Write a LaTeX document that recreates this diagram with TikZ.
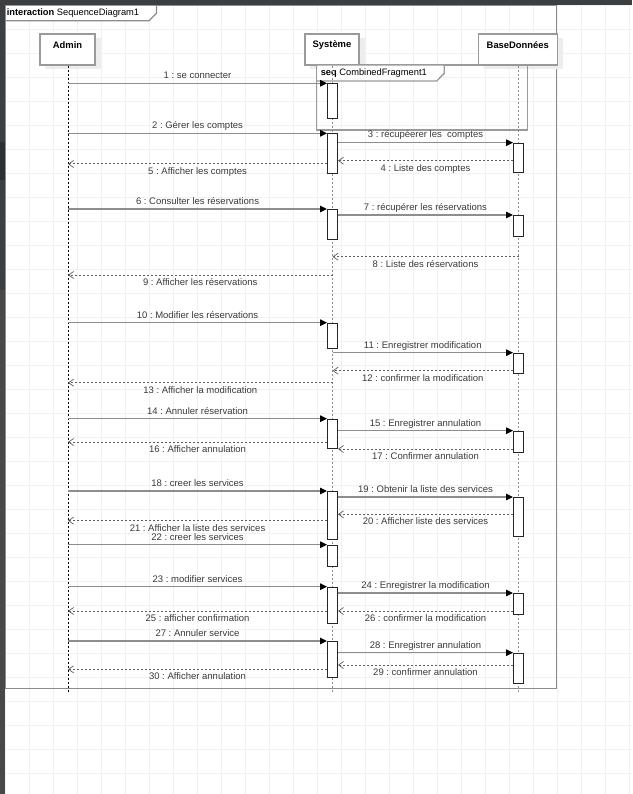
\documentclass[tikz,border=0pt]{standalone}
\usepackage{fontspec}
\setmainfont{Liberation Sans}
\frenchspacing
\usetikzlibrary{arrows.meta}
\definecolor{gridc}{HTML}{F1F1F1}
\definecolor{stripc}{HTML}{3B3F42}
\definecolor{stripd}{HTML}{2C3033}
\definecolor{stripl}{HTML}{47484A}
\definecolor{framec}{HTML}{8C8C8C}
\definecolor{headc}{HTML}{9A9A9A}
\definecolor{shadowc}{HTML}{EDEDED}
\definecolor{msgc}{HTML}{8E8E8E}
\definecolor{retc}{HTML}{5E5E5E}
\definecolor{lblc}{HTML}{3A3A3A}
\tikzset{
  gridline/.style={draw=gridc, line width=0.9pt},
  framebox/.style={draw=framec, line width=1.3pt},
  head/.style={draw=headc, line width=1.3pt, fill=white, inner sep=0pt},
  headshadow/.style={fill=shadowc},
  headtxt/.style={font=\fontsize{9.4}{11}\selectfont\bfseries, inner sep=0pt},
  lifeA/.style={draw=black, line width=0.6pt, dash pattern=on 2pt off 2pt},
  lifeB/.style={draw=msgc, line width=1.3pt, dash pattern=on 2pt off 2pt},
  actbar/.style={draw=black!85, line width=0.9pt, fill=white, minimum width=10pt, inner sep=0pt, anchor=north},
  call/.style={draw=msgc, line width=1.3pt, -{Triangle[length=7pt,width=6.5pt,color=black,fill=black]}},
  ret/.style={draw=retc, line width=1pt, dash pattern=on 2pt off 2pt, -{Straight Barb[length=5pt,width=7pt,line width=0.7pt]}},
  lbl/.style={font=\fontsize{9.5}{11}\selectfont, text=lblc, inner sep=0pt, text height=6.6pt, text depth=2pt},
  up/.style={lbl, midway, yshift=7pt},
  down/.style={lbl, midway, yshift=-8.3pt},
  ftxt/.style={font=\fontsize{9.3}{11}\selectfont, inner sep=0pt, anchor=west}
}
\begin{document}
\begin{tikzpicture}[x=1pt,y=-1pt]
\useasboundingbox (0,0) rectangle (632,794);
\fill[white] (0,0) rectangle (632,794);
% grid
\foreach \gx in {5,29,...,629} \draw[gridline] (\gx,0) -- (\gx,794);
\foreach \gy in {5.7,29.7,...,790} \draw[gridline] (0,\gy) -- (632,\gy);

% outer frame
\draw[framebox] (5.5,5.5) rectangle (556.3,688.7);
\fill[white] (6,6) -- (156,6) -- (156,13.3) -- (149,20.2) -- (6,20.2) -- cycle;
\draw[framebox] (5.5,20.7) -- (149,20.7) -- (156.5,13.2) -- (156.5,5.5);
\node[ftxt] (frametxt) at (6.6,13.2) {\textbf{interaction} SequenceDiagram1};

% lifeline coordinates
\coordinate (LA) at (68,692);
\coordinate (LS) at (332.5,692.5);
\coordinate (LB) at (518.5,692.5);

% head shadows
\fill[headshadow] (45,38) rectangle (100.5,69.5);
\fill[headshadow] (310,38) rectangle (364.5,69.5);
\fill[headshadow] (483.5,38) rectangle (563,69.5);
% heads
\node[head, minimum width=55pt, minimum height=31pt] (admin) at (67.5,49.5) {};
\node[head, minimum width=54pt, minimum height=31pt] (sys) at (332,49.5) {};
\node[head, minimum width=79pt, minimum height=31pt] (bd) at (517.8,49.5) {};
\node[headtxt] (admintxt) at (67.5,45) {Admin};
\node[headtxt] (systxt) at (332,45) {Système};
\node[headtxt] (bdtxt) at (517.8,45) {BaseDonnées};

% combined fragment
\draw[framebox, draw=headc] (316.7,65) rectangle (527.3,130);
\fill[white] (317.3,65.6) -- (443.7,65.6) -- (443.7,73) -- (436.4,80.4) -- (317.3,80.4) -- cycle;
\draw[framebox, draw=headc] (316.7,81) -- (436.7,81) -- (444.3,73.3) -- (444.3,65);
\node[ftxt] (fragtxt) at (320.6,73) {\textbf{seq} CombinedFragment1};

% lifelines
\draw[lifeA] (admin.south -| LA) -- (LA);
\draw[lifeB] (sys.south -| LS) -- (LS);
\draw[lifeB] (bd.south -| LB) -- (LB);

% activation bars
\node[actbar, minimum height=35pt]   (s1) at (332.5,83.3) {};
\node[actbar, minimum height=39.4pt] (s2) at (332.5,133.3) {};
\node[actbar, minimum height=29.7pt] (s3) at (332.5,209) {};
\node[actbar, minimum height=25.6pt] (s4) at (332.5,322.7) {};
\node[actbar, minimum height=29.6pt] (s5) at (332.5,418.7) {};
\node[actbar, minimum height=48pt]   (s6) at (332.5,491) {};
\node[actbar, minimum height=21.3pt] (s7) at (332.5,544.7) {};
\node[actbar, minimum height=36pt]   (s8) at (332.5,586.7) {};
\node[actbar, minimum height=35.7pt] (s9) at (332.5,641) {};
\node[actbar, minimum height=29.6pt] (b1) at (518.5,142.7) {};
\node[actbar, minimum height=21pt]   (b2) at (518.5,215) {};
\node[actbar, minimum height=20.6pt] (b3) at (518.5,352.7) {};
\node[actbar, minimum height=21pt]   (b4) at (518.5,430.7) {};
\node[actbar, minimum height=39.3pt] (b5) at (518.5,497) {};
\node[actbar, minimum height=21pt]   (b6) at (518.5,593) {};
\node[actbar, minimum height=30.3pt] (b7) at (518.5,652.7) {};

% message rows
\coordinate (m4) at (0,160.7);
\coordinate (m5) at (0,164);
\coordinate (m8) at (0,256.7);
\coordinate (m9) at (0,275);
\coordinate (m11) at (0,352.7);
\coordinate (m12) at (0,370.7);
\coordinate (m13) at (0,382.7);
\coordinate (m16) at (0,442);
\coordinate (m17) at (0,449);
\coordinate (m20) at (0,514.3);
\coordinate (m21) at (0,520.7);
\coordinate (m25) at (0,611);
\coordinate (m26) at (0,611);
\coordinate (m29) at (0,665);
\coordinate (m30) at (0,669.3);

% messages
\draw[call] (s1.north west -| LA) -- node[up] (l1) {1 : se connecter} (s1.north west);
\draw[call] (s2.north west -| LA) -- node[up] (l2) {2 : Gérer les comptes} (s2.north west);
\draw[call] (b1.north west -| s2.east) -- node[up] (l3) {3 : récupéerer les\ \ comptes} (b1.north west);
\draw[ret] (m4 -| b1.west) -- node[down] (l4) {4 : Liste des comptes} (m4 -| s2.east);
\draw[ret] (m5 -| s2.west) -- node[down] (l5) {5 : Afficher les comptes} (m5 -| LA);
\draw[call] (s3.north west -| LA) -- node[up] (l6) {6 : Consulter les réservations} (s3.north west);
\draw[call] (b2.north west -| s3.east) -- node[up] (l7) {7 : récupérer les réservations} (b2.north west);
\draw[ret] (m8 -| LB) -- node[down] (l8) {8 : Liste des réservations} (m8 -| LS);
\draw[ret] (m9 -| LS) -- node[down] (l9) {9 : Afficher les réservations} (m9 -| LA);
\draw[call] (s4.north west -| LA) -- node[up] (l10) {10 : Modifier les réservations} (s4.north west);
\draw[call] (m11 -| LS) -- node[up] (l11) {11 : Enregistrer modification} (b3.north west);
\draw[ret] (m12 -| b3.west) -- node[down] (l12) {12 : confirmer la modification} (m12 -| LS);
\draw[ret] (m13 -| LS) -- node[down] (l13) {13 : Afficher la modification} (m13 -| LA);
\draw[call] (s5.north west -| LA) -- node[up] (l14) {14 : Annuler réservation} (s5.north west);
\draw[call] (b4.north west -| s5.east) -- node[up] (l15) {15 : Enregistrer annulation} (b4.north west);
\draw[ret] (m16 -| s5.west) -- node[down] (l16) {16 : Afficher annulation} (m16 -| LA);
\draw[ret] (m17 -| b4.west) -- node[down] (l17) {17 : Confirmer annulation} (m17 -| s5.east);
\draw[call] (s6.north west -| LA) -- node[up] (l18) {18 : creer les services} (s6.north west);
\draw[call] (b5.north west -| s6.east) -- node[up] (l19) {19 : Obtenir la liste des services} (b5.north west);
\draw[ret] (m20 -| b5.west) -- node[down] (l20) {20 : Afficher liste des services} (m20 -| s6.east);
\draw[ret] (m21 -| s6.west) -- node[down] (l21) {21 : Afficher la liste des services} (m21 -| LA);
\draw[call] (s7.north west -| LA) -- node[up] (l22) {22 : creer les services} (s7.north west);
\draw[call] (s8.north west -| LA) -- node[up] (l23) {23 : modifier services} (s8.north west);
\draw[call] (b6.north west -| s8.east) -- node[up] (l24) {24 : Enregistrer la modification} (b6.north west);
\draw[ret] (m25 -| s8.west) -- node[down] (l25) {25 : afficher confirmation} (m25 -| LA);
\draw[ret] (m26 -| b6.west) -- node[down] (l26) {26 : confirmer la modification} (m26 -| s8.east);
\draw[call] (s9.north west -| LA) -- node[up] (l27) {27 : Annuler service} (s9.north west);
\draw[call] (b7.north west -| s9.east) -- node[up] (l28) {28 : Enregistrer annulation} (b7.north west);
\draw[ret] (m29 -| b7.west) -- node[down] (l29) {29 : confirmer annulation} (m29 -| s9.east);
\draw[ret] (m30 -| s9.west) -- node[down] (l30) {30 : Afficher annulation} (m30 -| LA);

% window chrome strips
\fill[stripc] (0,0) rectangle (632,5);
\fill[stripc] (0,0) rectangle (5,290);
\fill[stripd] (0,142) rectangle (5,180);
\fill[stripl] (0,290) rectangle (5,794);
\end{tikzpicture}
\end{document}
